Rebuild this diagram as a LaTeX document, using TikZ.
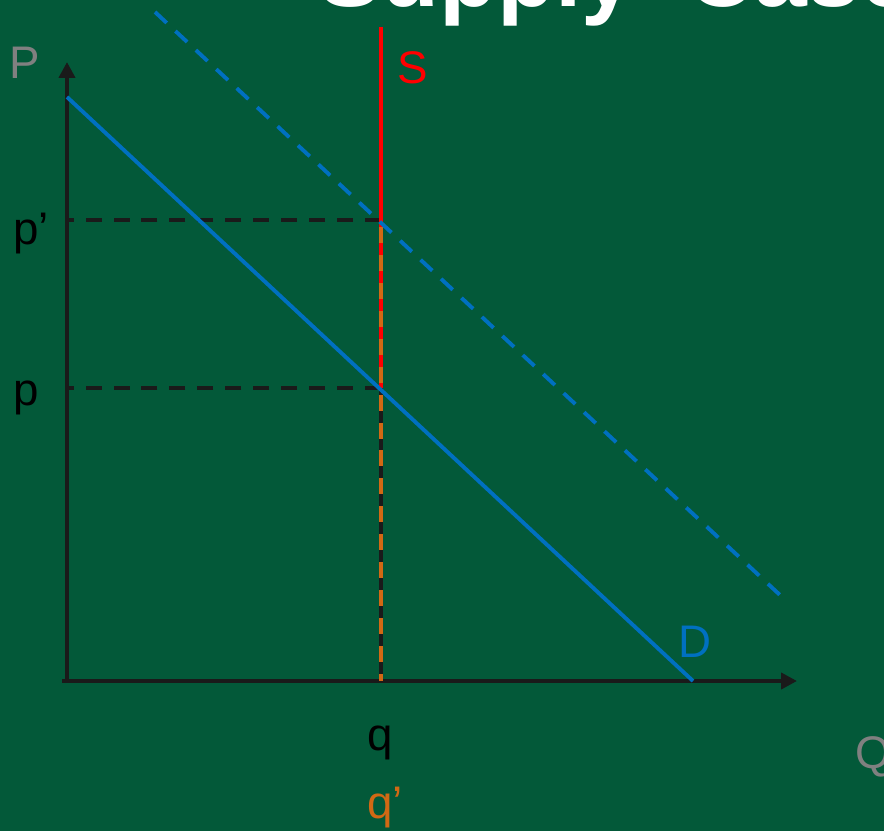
\documentclass[tikz,border=0pt]{standalone}
\usepackage{fontspec}
\setmainfont{Liberation Sans}
\usepackage{xcolor}
\definecolor{ecgreen}{RGB}{3,89,57}
\definecolor{ecblue}{RGB}{0,112,192}
\definecolor{ecred}{RGB}{255,0,0}
\definecolor{ecorange}{RGB}{210,105,20}
\definecolor{ecgray}{RGB}{128,128,128}
\definecolor{ecblack}{RGB}{26,26,26}
\usetikzlibrary{arrows.meta}

\begin{document}
\begin{tikzpicture}[
    lbl/.style={font=\fontsize{26}{30}\selectfont, inner sep=0pt, anchor=base west},
    axisline/.style={ecblack, line width=2.2pt, -{Triangle[length=9pt,width=9pt]}},
    guide/.style={line width=2.2pt, dash pattern=on 9.1pt off 6.8pt},
    demand/.style={ecblue, line width=2.2pt}
  ]
  % Background
  \useasboundingbox (0,0) rectangle (17.68,16.62);
  \fill[ecgreen] (0,0) rectangle (17.68,16.62);
  \clip (0,0) rectangle (17.68,16.62);

  % Title (cut by the frame)
  \node[font=\fontsize{54}{60}\selectfont\bfseries, white, inner sep=0pt, anchor=base west]
       (title) at (6.36,16.48) {Supply\hspace{0.5cm} Cases};

  % Points
  \coordinate (O) at (1.34,2.96);
  \coordinate (xstart) at (1.24,3.00);
  \coordinate (ytop) at (1.34,15.38);
  \coordinate (xend) at (15.94,3.00);
  \coordinate (D1) at (1.34,14.68);
  \coordinate (D2) at (13.86,3.00);
  \coordinate (Dn1) at (3.10,16.38);
  \coordinate (Dn2) at (15.62,4.70);
  \coordinate (Stop) at (7.62,16.08);
  \coordinate (Sbot) at (7.62,3.00);
  \coordinate (E1) at (7.62,8.86);
  \coordinate (E2) at (7.62,12.22);
  \coordinate (Yp) at (1.34,8.86);
  \coordinate (Ypp) at (1.34,12.22);

  % Axes
  \draw[axisline] (O) -- (ytop);
  \draw[axisline] (xstart) -- (xend);

  % Price guides
  \draw[guide, ecblack] (E2) -- (Ypp);
  \draw[guide, ecblack] (E1) -- (Yp);

  % Supply
  \draw[ecred, line width=2.2pt] (Stop) -- (Sbot);
  \draw[guide, ecblack, dash phase=5pt] (E1) -- (Sbot);
  \draw[guide, ecorange, dash phase=11.95pt] (E2) -- (Sbot);

  % Demand, old and new
  \draw[demand] (D1) -- (D2);
  \draw[demand, dash pattern=on 9.1pt off 6.8pt] (Dn1) -- (Dn2);

  % Labels
  \node[lbl, ecgray] (Plbl) at (0.19,15.04) {P};
  \node[lbl, black] (pplbl) at (0.26,11.72) {p’};
  \node[lbl, black] (plbl) at (0.26,8.52) {p};
  \node[lbl, ecred] (Slbl) at (7.94,14.94) {S};
  \node[lbl, ecblue] (Dlbl) at (13.56,3.48) {D};
  \node[lbl, black] (qlbl) at (7.34,1.62) {q};
  \node[lbl, ecorange] (qqlbl) at (7.34,0.26) {q’};
  \node[lbl, ecgray] (Qlbl) at (17.10,1.26) {Q};
\end{tikzpicture}
\end{document}
